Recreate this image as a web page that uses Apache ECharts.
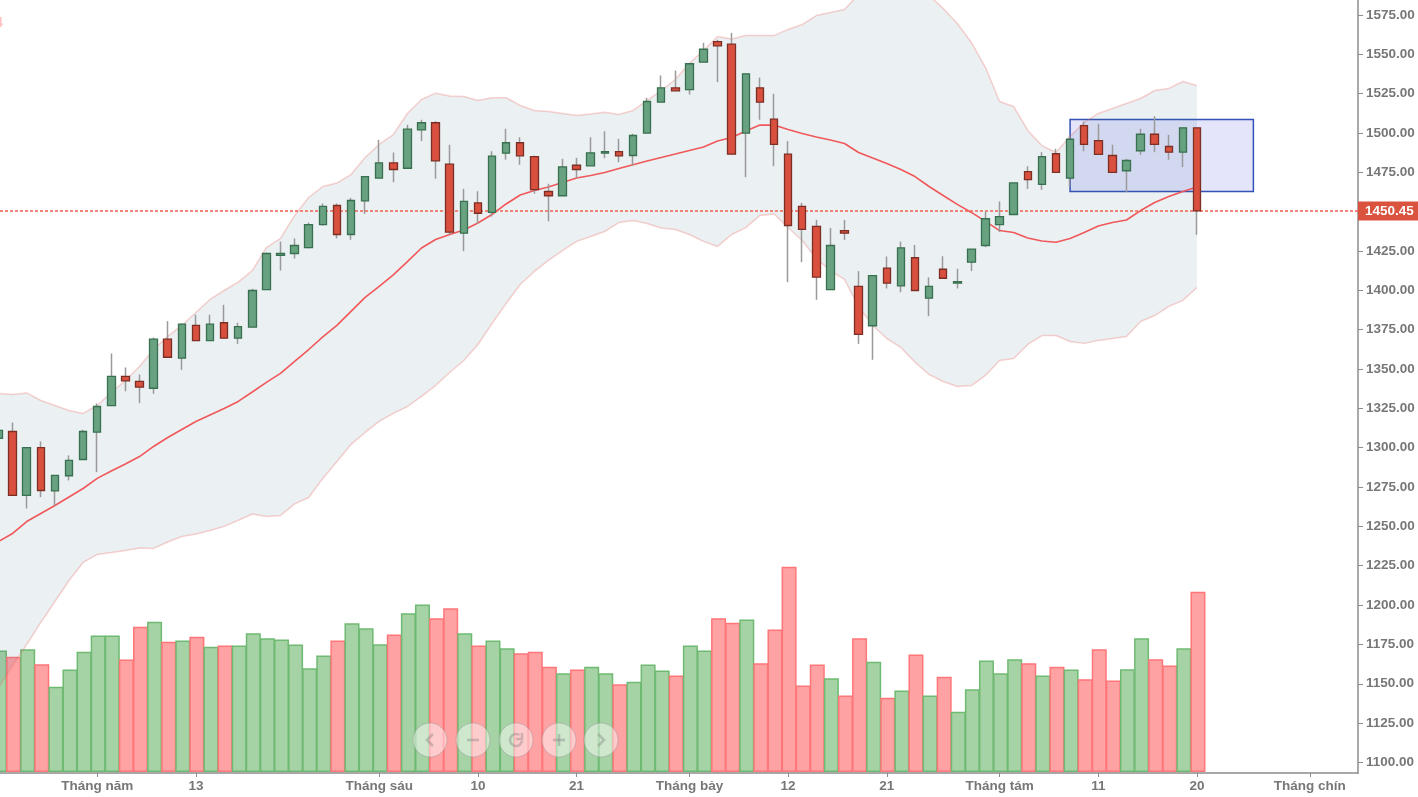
<!DOCTYPE html>
<html>
<head>
<meta charset="utf-8">
<style>html,body{margin:0;padding:0;background:#fff;overflow:hidden}#c{width:1418px;height:797px}</style>
<script src="https://cdn.jsdelivr.net/npm/echarts@6/dist/echarts.min.js"></script>
</head>
<body>
<div id="c"></div>
<script>
// open, close, low, high
const candles = [
[1305.9,1311,1304.6,1312.2],[1310.3,1269.7,1269.7,1316],[1269.7,1300,1261.4,1300],[1300,1272.8,1268.6,1304],[1272.6,1282.4,1263.3,1282.4],
[1282.2,1291.9,1279.2,1295.1],[1292.5,1310.3,1292.5,1311.4],[1309.9,1326.2,1284.5,1328.1],[1326.8,1345.3,1326.8,1359.9],[1345.3,1342.5,1335.9,1351],
[1342.1,1338.5,1328.3,1346.5],[1337.8,1369,1334.3,1370],[1369,1357.5,1357.5,1380.4],[1356.9,1378.5,1349.5,1379],[1377.7,1368.1,1368.1,1384.5],
[1368.1,1378.5,1368.1,1384.5],[1379.4,1369.6,1369.6,1390.8],[1369.6,1377,1366,1379.4],[1376.6,1399.9,1376.6,1401],[1400.5,1423.4,1400.5,1424],
[1422.2,1423.4,1412.6,1431],[1423.4,1428.5,1420.2,1433],[1427.2,1441.8,1426.6,1443.1],[1441.8,1453.3,1441.2,1455.2],[1453.9,1435.5,1433,1455.2],
[1435.5,1457.1,1432.1,1458.8],[1456.9,1472.3,1448.6,1472.3],[1471.3,1481,1471.3,1495.7],[1481,1476.8,1468.7,1487.6],[1477.6,1502.4,1477.6,1505.2],
[1502,1506.5,1494.8,1508.4],[1506.5,1482.3,1470.9,1507.5],[1480.2,1437,1435.5,1492.5],[1436.3,1456.5,1424.9,1464.5],[1455.6,1449,1442.3,1463],
[1449.5,1485.3,1446.9,1488.4],[1487.2,1493.8,1483,1502.7],[1493.8,1485.5,1479.8,1497.3],[1485,1464,1461.4,1485.6],[1462.8,1460.1,1443.9,1467.7],
[1460.1,1478.5,1460.1,1483.6],[1479.5,1476.8,1471.5,1484.2],[1479.1,1487.4,1479.1,1497.3],[1487.2,1488.2,1484,1501.1],[1488.2,1485.5,1481.4,1496.3],
[1485.7,1498.4,1479.3,1499.5],[1499.9,1520,1499.9,1522.4],[1519.6,1528.7,1519.6,1536.5],[1528.7,1526.8,1526.8,1539.7],[1527.6,1544,1524.4,1544],
[1545,1553.2,1545,1557.3],[1558.1,1555.4,1532.3,1559.2],[1556.4,1486.5,1486.5,1563.6],[1499.9,1537.6,1471.9,1537.6],[1528.7,1519.6,1508.4,1535.2],
[1508.8,1492.7,1478.9,1524.9],[1486.5,1441.2,1405.2,1494.8],[1453.3,1438.7,1417.9,1455.6],[1440.6,1408.4,1394,1444.8],[1400.5,1428.5,1400.5,1439.7],
[1438,1436.3,1432.1,1444.8],[1402.5,1372,1366,1412.2],[1377.5,1409.4,1355.9,1409.4],[1414.1,1404.6,1401.2,1421.5],[1402.9,1427,1398.8,1431],
[1420.7,1399.9,1399.9,1428.9],[1395,1402.5,1383.6,1408.2],[1413.4,1407.7,1407.7,1421.7],[1404.6,1405.6,1401.2,1413.7],[1417.9,1426.2,1412.2,1426.2],
[1428.5,1445.5,1427.4,1450],[1441.8,1446.9,1437,1456.5],[1448.2,1468.3,1448.2,1468.3],[1475.5,1470.4,1464.5,1478.9],[1467.3,1485,1463.9,1487.8],
[1486.8,1475,1475,1489.9],[1471.3,1496,1466.2,1498.4],[1504.7,1492.7,1488.4,1507.3],[1495.2,1486.4,1486.4,1505.8],[1485.7,1475,1475,1492.5],
[1476,1482.5,1462.4,1483.6],[1488.7,1499.2,1486.1,1502.7],[1499.2,1492.7,1487.8,1510.7],[1491.4,1487.8,1483,1498.8],[1487.8,1503.3,1478.3,1503.3],
[1503.3,1450.45,1435.3,1503.3]
];
const volumes = [
121.5,115.2,122.8,107.8,85.2,102.5,120.2,136.5,136.5,112.5,
145.2,150.2,130.2,131.5,135.2,125.2,126.5,126.5,138.8,133.8,
132.5,127.5,103.8,116.5,131.5,148.8,143.8,127.8,137.5,158.8,
167.5,153.8,163.8,138.8,126.5,131.5,123.8,118.8,120.2,105.2,
98.8,102.5,105.2,98.8,87.8,90.2,107.5,101.5,96.5,126.5,
121.5,153.8,149.2,152.5,108.8,142.5,205.2,86.5,107.5,93.8,
76.5,133.8,110.2,74.2,81.5,117.5,76.5,95.2,60.2,82.8,
111.5,98.8,112.8,108.8,96.5,105.2,102.5,92.8,122.8,91.5,
102.8,133.8,112.8,106.5,123.8,180.2
];
const midBand = [
1240.4,1245.5,1253.1,1258.2,1263.3,1268.7,1274.1,1280.5,1285.2,1289.7,
1294.4,1300.8,1306.5,1311.6,1316.7,1320.8,1324.9,1329.4,1335.4,1341.5,
1347.2,1354.8,1362.4,1370.4,1377.7,1386.6,1395.5,1402.5,1409.8,1418.3,
1426.9,1432.3,1435.5,1438.4,1442.8,1448.2,1454.9,1460.6,1463.5,1465.7,
1468.5,1471.4,1473,1474.9,1477.4,1479.8,1482.2,1484.4,1486.6,1488.9,
1491.1,1494.9,1497.1,1501.3,1505,1505,1502.2,1499.7,1497.4,1495.5,
1493.3,1487.6,1484.1,1480.6,1476.8,1472.3,1466,1460.3,1454.6,1449.5,
1443.8,1438,1436.8,1433.3,1431.4,1430.6,1433,1436.8,1440.9,1443.1,
1444.7,1450.7,1455.8,1459.6,1462.8,1465.7
];
const upperBand = [
1334.5,1333.8,1334.8,1330,1326.8,1323.6,1321.8,1326.8,1335.1,1342.7,
1351.6,1362.4,1370.7,1377.7,1385.9,1394.2,1399.9,1405.2,1412.6,1427.2,
1433,1447.6,1459,1466,1468.2,1473.6,1484.4,1492.7,1499,1512.4,
1521.3,1525.3,1523.5,1523.2,1520.6,1522.4,1522.4,1517.5,1514.3,1513.7,
1512.4,1511.1,1512.1,1513.2,1511.8,1514.3,1520.6,1527,1534,1544.2,
1552.4,1561.3,1559.7,1561.9,1561.9,1561.9,1565.8,1568.9,1574.6,1576.6,
1578.5,1588,1591.8,1593.1,1593.1,1591.8,1587.4,1579.1,1569.6,1557.5,
1541.6,1520,1516.8,1501.6,1492,1487.6,1497.8,1506.7,1512.4,1515.6,
1518.7,1521.9,1527,1528.3,1532.7,1530.2
];
const lowerBand = [
1147.7,1161.6,1175,1189,1202.3,1215.6,1227.1,1232.2,1233.4,1234.7,
1236.3,1236,1240.1,1243.6,1245.2,1247.4,1250,1253.8,1257.9,1256.3,
1256.9,1264.3,1268.4,1280.5,1291.3,1302.1,1309.7,1316.7,1321.8,1326.2,
1332.6,1339.5,1347.8,1355.4,1365.6,1378.9,1391.6,1403.7,1412,1419,
1425.3,1431.1,1434.2,1437.4,1443.1,1444.4,1442.5,1439.6,1438.7,1435.5,
1431.1,1427.9,1435.5,1439.9,1447.6,1448.5,1439.9,1431.7,1420.2,1412.6,
1406.9,1389.8,1377.7,1369.4,1363.7,1354.4,1346.5,1342.1,1338.9,1339.5,
1345.9,1355.4,1356.7,1365.6,1371.3,1371.3,1367.5,1366.3,1368.2,1369.4,
1370.7,1380.2,1384,1389.8,1393.6,1401.8
];
const dateTickIndex = [7,14,27,34,41,49,56,63,71,78,85,93];
const dateTickLabels = ['Tháng năm','13','Tháng sáu','10','21','Tháng bảy','12','21','Tháng tám','11','20','Tháng chín'];
const priceTicks = [1100,1125,1150,1175,1200,1225,1250,1275,1300,1325,1350,1375,1400,1425,1450,1475,1500,1525,1550,1575];
const lastPrice = 1450.45;
const selectionBox = {fromIndex:76, toIndex:89, top:1508.5, bottom:1462.8};

const xMin = 0.106, xMax = 96.42, barShift = 0.07;
const labelFont = {color:'#777', fontFamily:'"Liberation Sans",Arial,sans-serif', fontSize:13.5, fontWeight:'bold'};
const axisGrey = '#8c8c8c';
const bandLine = {color:'rgba(235,108,102,0.3)',width:1.5};

const chart = echarts.init(document.getElementById('c'), null, {width:1418, height:797});

// zoom-control buttons
const btnX = [430,473,516,559,601], cy = 740;
const glyphStyle = {stroke:'rgba(125,125,125,0.38)',lineWidth:2.6,fill:'none'};
const graphics = [];
btnX.forEach(x=>graphics.push({type:'circle',shape:{cx:x,cy:cy,r:17},z:50,
  style:{fill:'rgba(255,255,255,0.45)',stroke:'rgba(140,140,140,0.4)',lineWidth:1}}));
const pl=(pts)=>({type:'polyline',z:51,shape:{points:pts},style:glyphStyle});
graphics.push(pl([[btnX[0]+3,cy-6],[btnX[0]-3,cy],[btnX[0]+3,cy+6]]));
graphics.push(pl([[btnX[1]-6,cy],[btnX[1]+6,cy]]));
graphics.push({type:'arc',z:51,shape:{cx:btnX[2],cy:cy,r:6,startAngle:0.1,endAngle:5.3,clockwise:true},style:glyphStyle});
graphics.push(pl([[btnX[2]+6,cy-7],[btnX[2]+6,cy-1],[btnX[2],cy-1]]));
graphics.push(pl([[btnX[3]-6,cy],[btnX[3]+6,cy]]));
graphics.push(pl([[btnX[3],cy-6],[btnX[3],cy+6]]));
graphics.push(pl([[btnX[4]-3,cy-6],[btnX[4]+3,cy],[btnX[4]-3,cy+6]]));
graphics.push({type:'text',x:-5,y:16,z:51,style:{text:'4',fill:'#ffc0c0',font:'bold 14px "Liberation Sans"'}});

chart.setOption({
  animation:false,
  backgroundColor:'#ffffff',
  grid:{left:0,right:60,top:0,bottom:24,containLabel:false},
  graphic:graphics,
  xAxis:[{
    type:'value',min:xMin,max:xMax,splitLine:{show:false},
    axisLine:{show:true,onZero:false,lineStyle:{color:axisGrey,width:1.5}},
    axisTick:{show:true,length:4,customValues:dateTickIndex,lineStyle:{color:axisGrey,width:1}},
    axisLabel:Object.assign({show:true,margin:6,customValues:dateTickIndex,
      formatter:v=>dateTickLabels[dateTickIndex.indexOf(v)]||''},labelFont)
  },{
    type:'value',min:xMin-barShift,max:xMax-barShift,show:false
  }],
  yAxis:[{
    type:'value',position:'right',min:1093.3,max:1584.5,splitLine:{show:false},
    axisLine:{show:true,onZero:false,lineStyle:{color:axisGrey,width:1.5}},
    axisTick:{show:true,length:5,customValues:priceTicks,lineStyle:{color:axisGrey,width:1}},
    axisLabel:Object.assign({show:true,margin:8,customValues:priceTicks,formatter:v=>v.toFixed(2)},labelFont)
  },{
    type:'value',min:-1,max:772,show:false
  }],
  series:[
    {type:'bar',name:'Volume',xAxisIndex:1,yAxisIndex:1,barWidth:15,z:1,
     data:volumes.map((v,i)=>{
       const up=candles[i][1]>=candles[i][0];
       return {value:[i,v],itemStyle:{color:up?'#a6d3a5':'#ffa2a4',borderColor:up?'#6fba72':'#ff7679',borderWidth:1.5}};
     })},
    {type:'line',name:'lower',stack:'band',symbol:'none',z:2,
     encode:{x:1,y:0},
     lineStyle:bandLine,
     data:lowerBand.map((v,i)=>[v,i])},
    {type:'line',name:'upper',stack:'band',symbol:'none',z:2,
     encode:{x:1,y:0},
     lineStyle:bandLine,
     areaStyle:{color:'rgba(55,105,135,0.1)',opacity:1},
     data:upperBand.map((v,i)=>[v-lowerBand[i],i])},
    {type:'line',name:'mid',symbol:'none',z:4,
     lineStyle:{color:'#f0585a',width:1.6},
     data:midBand.map((v,i)=>[i,v]),
     markArea:{silent:true,
       itemStyle:{color:'rgba(10,20,220,0.11)',borderColor:'#3352b5',borderWidth:1.5},
       data:[[{coord:[selectionBox.fromIndex,selectionBox.top]},{coord:[selectionBox.toIndex,selectionBox.bottom]}]]},
     markLine:{silent:true,symbol:'none',
       lineStyle:{color:'#f2604f',type:[3,2],width:1.6,opacity:1},
       label:{show:true,position:'end',distance:0,formatter:()=>lastPrice.toFixed(2),
         backgroundColor:'#d9533f',color:'#fff',fontFamily:'"Liberation Sans",Arial,sans-serif',
         fontSize:13.5,fontWeight:'bold',padding:[3,5,3,7],lineHeight:13},
       data:[{yAxis:lastPrice}]}},
    {type:'candlestick',name:'wick',barWidth:1,z:5,
     itemStyle:{color:'#9a9a9a',color0:'#9a9a9a',borderColor:'#9a9a9a',borderColor0:'#9a9a9a',borderWidth:1.5},
     data:candles.map((c,i)=>[i,c[0],c[1],c[2],c[3]])},
    {type:'candlestick',name:'body',barWidth:8,z:6,
     itemStyle:{color:'#68a280',color0:'#d9503e',borderColor:'#39704f',borderColor0:'#7c2f25',borderWidth:1.3},
     data:candles.map((c,i)=>[i,c[0],c[1],Math.min(c[0],c[1]),Math.max(c[0],c[1])])}
  ]
});
</script>
</body>
</html>
